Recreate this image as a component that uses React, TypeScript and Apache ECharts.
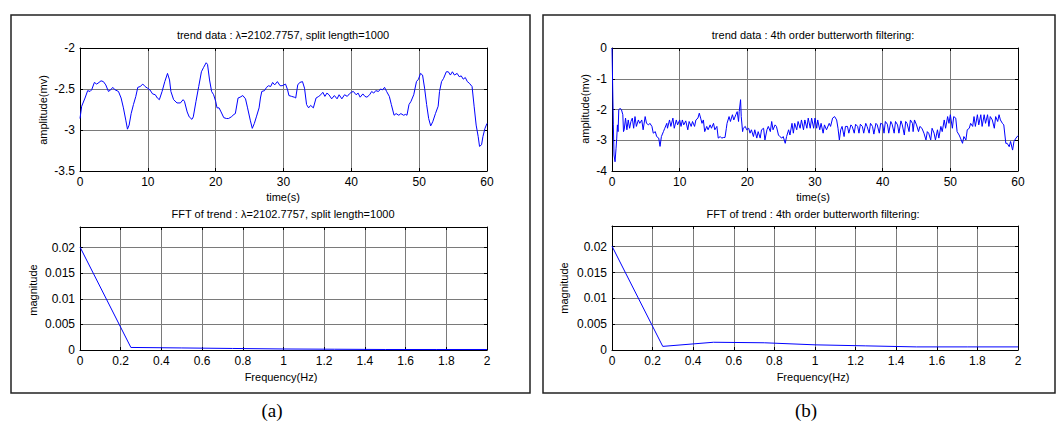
import React, { useEffect, useRef } from "react";
import * as echarts from "echarts";

// ---- (a) trend data (HP filter) ----
const trendATime = [0, 0.25, 0.74, 1.13, 1.48, 1.72, 2.12, 2.46, 2.8, 3.1, 3.45, 3.8, 4.19, 4.53, 4.83, 5.17, 5.67, 6.06, 6.4, 6.75, 7.0, 7.24, 7.54, 7.88, 8.23, 8.52, 8.87, 9.26, 9.6, 9.95, 10.3, 10.7, 11.1, 11.4, 11.7, 12.1, 12.5, 12.9, 13.2, 13.4, 13.8, 14.3, 14.8, 15.2, 15.4, 15.8, 16.1, 16.5, 16.7, 17.1, 17.5, 17.9, 18.2, 18.6, 18.8, 19.1, 19.4, 19.7, 20.0, 20.2, 20.5, 20.8, 21.2, 21.6, 21.9, 22.3, 22.7, 22.9, 23.3, 23.6, 24.0, 24.4, 24.7, 25.1, 25.4, 25.7, 26.0, 26.4, 26.6, 26.8, 27.2, 27.5, 27.8, 28.1, 28.4, 28.7, 29.1, 29.5, 29.8, 30.3, 30.6, 30.8, 31.2, 31.6, 31.8, 32.1, 32.4, 32.8, 33.1, 33.4, 33.7, 34.0, 34.4, 34.8, 35.2, 35.5, 35.8, 36.1, 36.4, 36.7, 37.1, 37.5, 37.9, 38.2, 38.6, 39.0, 39.4, 39.7, 40.0, 40.3, 40.7, 41.0, 41.3, 41.7, 42.0, 42.3, 42.7, 43.0, 43.3, 43.6, 44.0, 44.3, 44.6, 44.9, 45.2, 45.6, 45.9, 46.3, 46.6, 47.0, 47.3, 47.7, 48.0, 48.2, 48.5, 48.8, 49.2, 49.6, 49.9, 50.2, 50.5, 50.8, 51.1, 51.4, 51.7, 52.0, 52.4, 52.8, 53.0, 53.3, 53.6, 54.0, 54.3, 54.6, 54.9, 55.2, 55.6, 55.9, 56.2, 56.5, 56.8, 57.1, 57.4, 57.8, 58.1, 58.4, 58.7, 58.9, 59.2, 59.4, 59.7, 60.0];
const trendAValue = [-2.86, -2.71, -2.61, -2.52, -2.53, -2.51, -2.42, -2.44, -2.42, -2.40, -2.41, -2.45, -2.53, -2.51, -2.48, -2.51, -2.53, -2.61, -2.73, -2.88, -2.99, -2.94, -2.80, -2.69, -2.59, -2.48, -2.47, -2.44, -2.47, -2.49, -2.51, -2.56, -2.57, -2.61, -2.63, -2.53, -2.41, -2.31, -2.39, -2.53, -2.63, -2.67, -2.67, -2.63, -2.65, -2.78, -2.84, -2.87, -2.84, -2.65, -2.47, -2.29, -2.24, -2.18, -2.20, -2.39, -2.53, -2.57, -2.65, -2.73, -2.73, -2.78, -2.85, -2.86, -2.86, -2.84, -2.81, -2.80, -2.61, -2.60, -2.58, -2.62, -2.73, -2.88, -2.98, -2.92, -2.84, -2.73, -2.61, -2.53, -2.52, -2.48, -2.46, -2.47, -2.42, -2.45, -2.41, -2.46, -2.46, -2.44, -2.51, -2.58, -2.59, -2.60, -2.61, -2.45, -2.42, -2.41, -2.49, -2.69, -2.73, -2.70, -2.73, -2.61, -2.59, -2.57, -2.54, -2.59, -2.55, -2.57, -2.62, -2.58, -2.62, -2.57, -2.62, -2.57, -2.59, -2.56, -2.54, -2.53, -2.57, -2.55, -2.60, -2.56, -2.59, -2.60, -2.57, -2.53, -2.55, -2.52, -2.53, -2.50, -2.51, -2.48, -2.53, -2.59, -2.69, -2.82, -2.80, -2.82, -2.80, -2.82, -2.81, -2.82, -2.69, -2.65, -2.57, -2.41, -2.38, -2.31, -2.33, -2.49, -2.69, -2.86, -2.95, -2.90, -2.80, -2.71, -2.53, -2.41, -2.37, -2.29, -2.29, -2.33, -2.29, -2.33, -2.31, -2.35, -2.34, -2.38, -2.36, -2.41, -2.43, -2.47, -2.71, -2.94, -3.08, -3.20, -3.18, -3.08, -2.98, -2.92];

// ---- (b) trend data (butterworth) ----
const trendBTime = [0, 0.2, 0.3, 0.45, 0.6, 0.7, 0.8, 0.9, 1.0, 1.2, 1.4, 1.6, 1.7, 1.8, 2.0, 2.2, 2.4, 2.6, 2.8, 3.0, 3.2, 3.4, 3.6, 3.9, 4.1, 4.4, 4.6, 4.9, 5.1, 5.4, 5.6, 5.9, 6.1, 6.4, 6.6, 6.9, 7.1, 7.3, 7.6, 7.8, 8.1, 8.2, 8.5, 8.7, 9.0, 9.2, 9.5, 9.7, 10.0, 10.2, 10.4, 10.6, 10.9, 11.2, 11.4, 11.7, 11.9, 12.2, 12.4, 12.7, 12.9, 13.1, 13.3, 13.5, 13.7, 14.0, 14.2, 14.5, 14.7, 15.0, 15.2, 15.5, 15.7, 16.0, 16.2, 16.5, 16.7, 16.9, 17.0, 17.3, 17.5, 17.8, 18.0, 18.3, 18.5, 18.7, 18.8, 19.0, 19.1, 19.3, 19.4, 19.7, 19.9, 20.2, 20.4, 20.6, 20.9, 21.1, 21.4, 21.6, 21.9, 22.1, 22.4, 22.6, 22.9, 23.1, 23.4, 23.6, 23.8, 24.1, 24.3, 24.6, 24.8, 25.1, 25.3, 25.6, 25.8, 26.1, 26.3, 26.6, 26.8, 27.0, 27.3, 27.5, 27.8, 28.0, 28.3, 28.5, 28.8, 29.0, 29.3, 29.5, 29.8, 30.0, 30.25, 30.4, 30.7, 30.9, 31.2, 31.4, 31.7, 32.1, 32.3, 32.6, 32.9, 33.2, 33.4, 33.6, 33.8, 34.0, 34.3, 34.5, 34.8, 35.0, 35.3, 35.5, 35.8, 36.0, 36.3, 36.5, 36.7, 37.0, 37.2, 37.5, 37.7, 38.0, 38.2, 38.5, 38.7, 39.0, 39.2, 39.5, 39.7, 40.0, 40.2, 40.4, 40.7, 40.9, 41.2, 41.4, 41.7, 41.9, 42.2, 42.4, 42.7, 42.9, 43.2, 43.4, 43.6, 43.9, 44.1, 44.4, 44.5, 44.7, 45.0, 45.3, 45.5, 45.8, 46.1, 46.4, 46.6, 46.8, 47.1, 47.3, 47.6, 47.8, 48.1, 48.3, 48.6, 48.8, 49.1, 49.3, 49.6, 49.8, 50.0, 50.3, 50.5, 50.8, 51.0, 51.3, 51.5, 51.8, 52.0, 52.3, 52.5, 52.8, 53.0, 53.3, 53.5, 53.7, 54.0, 54.2, 54.5, 54.7, 55.0, 55.2, 55.5, 55.7, 55.9, 56.2, 56.5, 56.7, 57.0, 57.2, 57.4, 57.7, 57.9, 58.2, 58.4, 58.7, 58.9, 59.2, 59.4, 59.7, 60.0];
const trendBValue = [0, -2.5, -3.48, -3.7, -3.26, -2.93, -2.5, -2.72, -2.01, -1.96, -2.01, -2.17, -2.72, -2.66, -2.28, -2.66, -2.34, -2.61, -2.39, -2.28, -2.61, -2.23, -2.55, -2.34, -2.45, -2.34, -2.66, -2.23, -2.45, -2.5, -2.45, -2.55, -2.77, -2.72, -2.88, -2.93, -3.2, -2.88, -2.72, -2.61, -2.45, -2.61, -2.34, -2.55, -2.28, -2.61, -2.34, -2.5, -2.34, -2.55, -2.34, -2.5, -2.37, -2.66, -2.39, -2.55, -2.39, -2.55, -2.34, -2.28, -2.12, -2.28, -2.45, -2.34, -2.72, -2.55, -2.66, -2.5, -2.61, -2.45, -2.66, -2.55, -2.93, -2.88, -2.93, -2.91, -2.91, -2.61, -2.45, -2.23, -2.39, -2.17, -2.34, -2.17, -2.07, -2.39, -2.07, -1.68, -2.23, -2.72, -2.61, -2.55, -2.66, -2.61, -2.77, -2.66, -2.88, -2.66, -2.93, -2.72, -2.93, -2.66, -2.61, -2.99, -2.66, -2.55, -2.72, -2.39, -2.66, -2.5, -2.55, -2.83, -2.88, -2.93, -2.88, -3.1, -2.88, -2.66, -2.83, -2.45, -2.77, -2.45, -2.66, -2.39, -2.61, -2.34, -2.66, -2.34, -2.61, -2.28, -2.61, -2.28, -2.61, -2.28, -2.61, -2.34, -2.66, -2.45, -2.77, -2.5, -2.66, -2.45, -2.55, -2.28, -2.23, -2.34, -2.61, -2.99, -2.66, -2.55, -2.88, -2.55, -2.55, -2.77, -2.5, -2.55, -2.77, -2.48, -2.55, -2.77, -2.48, -2.55, -2.77, -2.45, -2.55, -2.77, -2.45, -2.55, -2.8, -2.45, -2.5, -2.77, -2.45, -2.48, -2.77, -2.39, -2.48, -2.77, -2.39, -2.48, -2.77, -2.39, -2.5, -2.77, -2.37, -2.5, -2.83, -2.39, -2.45, -2.72, -2.34, -2.45, -2.72, -2.34, -2.5, -2.72, -2.55, -2.61, -2.77, -2.99, -2.72, -2.77, -2.99, -2.61, -2.77, -2.99, -2.66, -2.93, -2.55, -2.72, -2.34, -2.61, -2.23, -2.45, -2.17, -2.61, -2.23, -2.28, -2.72, -2.83, -2.93, -3.1, -2.88, -2.99, -2.66, -2.61, -2.45, -2.55, -2.23, -2.55, -2.17, -2.5, -2.17, -2.55, -2.17, -2.45, -2.17, -2.55, -2.23, -2.34, -2.61, -2.23, -2.39, -2.17, -2.34, -2.45, -2.5, -3.1, -3.1, -3.21, -3.04, -3.32, -3.04, -2.93, -2.85];

// ---- FFT of trend ----
const fftFreq = [0, 0.25, 0.5, 0.75, 1.0, 1.25, 1.5, 1.75, 2.0];
const fftAValue = [0.0201, 0.0005, 0.0004, 0.0003, 0.0002, 0.00015, 0.0001, 0.0001, 0.0001];
const fftBValue = [0.0201, 0.0007, 0.0015, 0.0014, 0.001, 0.0008, 0.0006, 0.0006, 0.0006];

// ---- axis ticks ----
const timeTicks = { min: 0, max: 60, interval: 10 };
const ampATicks = { min: -3.5, max: -2, interval: 0.5 };
const ampBTicks = { min: -4, max: 0, interval: 1 };
const freqTicks = { min: 0, max: 2, interval: 0.2 };
const magTicks = { min: 0, max: 0.024, interval: 0.005 };

const titles = {
  trendA: "trend data : \u03bb=2102.7757, split length=1000",
  fftA: "FFT of trend : \u03bb=2102.7757, split length=1000",
  trendB: "trend data : 4th order butterworth filtering:",
  fftB: "FFT of trend : 4th order butterworth filtering:",
};

const FONT = "'Liberation Sans', Arial, sans-serif";

function zip(xs: number[], ys: number[]) {
  return xs.map((x, i) => [x, ys[i]]);
}

export default function App() {
  const ref = useRef<HTMLDivElement>(null);
  useEffect(() => {
    if (!ref.current) return;
    const chart = echarts.init(ref.current, null, { renderer: "svg" });

    const grids = [
      { left: 80, top: 48, width: 407, height: 123 },
      { left: 80, top: 227, width: 407, height: 123 },
      { left: 612, top: 48, width: 406, height: 123 },
      { left: 612, top: 226, width: 406, height: 124 },
    ];
    const xRanges = [timeTicks, freqTicks, timeTicks, freqTicks];
    const yRanges = [ampATicks, magTicks, ampBTicks, magTicks];

    const gridLine = { show: true, lineStyle: { color: "#7a7a7a", width: 1 } };
    const xAxis: any[] = [];
    const yAxis: any[] = [];
    grids.forEach((_, i) => {
      const xr = xRanges[i];
      const yr = yRanges[i];
      xAxis.push({
        type: "value", gridIndex: i, position: "bottom", ...xr,
        axisLine: { show: true, onZero: false, lineStyle: { color: "#000", width: 1 } },
        axisTick: { show: true, inside: true, length: 3, lineStyle: { color: "#000" } },
        axisLabel: { show: true, color: "#000", fontSize: 12, fontFamily: FONT, margin: 5 },
        splitLine: gridLine,
      });
      xAxis.push({
        type: "value", gridIndex: i, position: "top", ...xr,
        axisLine: { show: true, onZero: false, lineStyle: { color: "#000", width: 1 } },
        axisTick: { show: true, inside: true, length: 3, lineStyle: { color: "#000" } },
        axisLabel: { show: false },
        splitLine: { show: false },
      });
      yAxis.push({
        type: "value", gridIndex: i, position: "left", ...yr,
        axisLine: { show: true, onZero: false, lineStyle: { color: "#000", width: 1 } },
        axisTick: { show: true, inside: true, length: 3, lineStyle: { color: "#000" } },
        axisLabel: { show: true, color: "#000", fontSize: 12, fontFamily: FONT, margin: 5, showMaxLabel: i % 2 === 0 },
        splitLine: gridLine,
      });
      yAxis.push({
        type: "value", gridIndex: i, position: "right", ...yr,
        axisLine: { show: true, onZero: false, lineStyle: { color: "#000", width: 1 } },
        axisTick: { show: true, inside: true, length: 3, lineStyle: { color: "#000" } },
        axisLabel: { show: false },
        splitLine: { show: false },
      });
    });

    const datasets = [
      zip(trendATime, trendAValue),
      zip(fftFreq, fftAValue),
      zip(trendBTime, trendBValue),
      zip(fftFreq, fftBValue),
    ];
    const series = datasets.map((d, i) => ({
      type: "line",
      xAxisIndex: i * 2,
      yAxisIndex: i * 2,
      data: d,
      showSymbol: false,
      symbol: "none",
      lineStyle: { color: "#0000ff", width: 1 },
      clip: true,
      z: 3,
    }));

    const txt = (x: number, y: number, text: string, size = 11, extra: any = {}) => ({
      type: "text",
      x, y,
      style: { text, fill: "#000", font: `${size}px ${FONT}`, textAlign: "center", textVerticalAlign: "middle" },
      ...extra,
    });
    const vtxt = (x: number, y: number, text: string) => ({
      type: "text",
      x, y, rotation: Math.PI / 2,
      style: { text, fill: "#000", font: `11px ${FONT}`, textAlign: "center", textVerticalAlign: "middle" },
    });

    const graphic: any[] = [
      { type: "rect", shape: { x: 11, y: 15, width: 519, height: 378 }, style: { fill: "none", stroke: "#222", lineWidth: 1.5 } },
      { type: "rect", shape: { x: 543, y: 15, width: 512, height: 378 }, style: { fill: "none", stroke: "#222", lineWidth: 1.5 } },
      txt(283, 35, titles.trendA),
      txt(283, 214, titles.fftA),
      txt(813, 35, titles.trendB),
      txt(813, 214, titles.fftB),
      txt(283, 197, "time(s)"),
      txt(813, 197, "time(s)"),
      txt(281, 377, "Frequency(Hz)"),
      txt(813, 377, "Frequency(Hz)"),
      vtxt(43, 110, "amplitude(mv)"),
      vtxt(33, 290, "magnitude"),
      vtxt(585, 109, "amplitude(mv)"),
      vtxt(564, 288, "magnitude"),
      {
        type: "text", x: 272, y: 410,
        style: { text: "(a)", fill: "#000", font: "19px 'Liberation Serif', 'Times New Roman', serif", textAlign: "center", textVerticalAlign: "middle" },
      },
      {
        type: "text", x: 806, y: 410,
        style: { text: "(b)", fill: "#000", font: "19px 'Liberation Serif', 'Times New Roman', serif", textAlign: "center", textVerticalAlign: "middle" },
      },
    ];

    chart.setOption({
      animation: false,
      backgroundColor: "#fff",
      grid: grids.map((g) => ({ ...g, containLabel: false })),
      xAxis,
      yAxis,
      series,
      graphic,
    });
    return () => chart.dispose();
  }, []);

  return (
    <div
      ref={ref}
      style={{ position: "fixed", left: 0, top: 0, width: 1056, height: 421 }}
    />
  );
}
